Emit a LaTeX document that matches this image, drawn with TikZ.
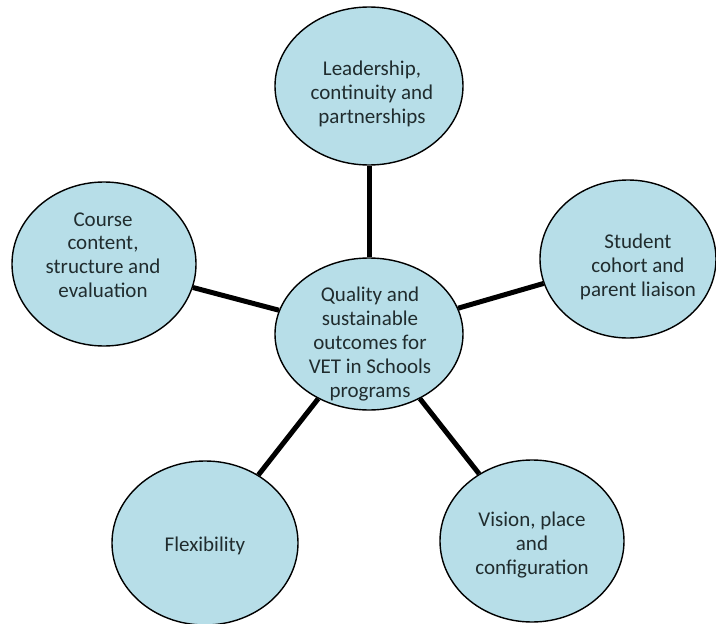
\documentclass[tikz,border=0pt]{standalone}
\usepackage{fontspec}
\setmainfont{Carlito}
\usetikzlibrary{shapes.geometric}
\definecolor{bubble}{RGB}{183,222,232}
\definecolor{txt}{RGB}{32,44,46}
\tikzset{
  bub/.style={ellipse, draw=black, line width=1.4pt, fill=bubble, inner sep=0pt},
  lbl/.style={align=center, text=txt, font=\fontsize{21pt}{23.8pt}\selectfont, inner sep=0pt},
  link/.style={line width=5pt, black}
}
\begin{document}
\begin{tikzpicture}[x=1pt,y=-1pt]
\useasboundingbox (0,0) rectangle (716,624);
\node[bub, minimum width=188pt, minimum height=152pt] (c) at (369,334) {};
\node[bub, minimum width=188pt, minimum height=158pt] (t) at (369,86) {};
\node[bub, minimum width=184pt, minimum height=164pt] (l) at (104,264) {};
\node[bub, minimum width=176pt, minimum height=158pt] (r) at (628,259) {};
\node[bub, minimum width=186pt, minimum height=164pt] (bl) at (205,543) {};
\node[bub, minimum width=184pt, minimum height=162pt] (br) at (532,541) {};
\draw[link] (c) -- (t);
\draw[link] (c) -- (l);
\draw[link] (c) -- (r);
\draw[link] (c) -- (bl);
\draw[link] (c) -- (br);
\node[lbl] (ct) at (370,344) {Quality and\\sustainable\\outcomes for\\VET in Schools\\programs};
\node[lbl] (tt) at (372,94) {Leadership,\\continuity and\\partnerships};
\node[lbl] (lt) at (103,255) {Course\\content,\\structure and\\evaluation};
\node[lbl] (rt) at (638,267) {Student\\cohort and\\parent liaison};
\node[lbl] (blt) at (205,546) {Flexibility};
\node[lbl] (brt) at (532,545) {Vision, place\\and\\configuration};
\end{tikzpicture}
\end{document}
